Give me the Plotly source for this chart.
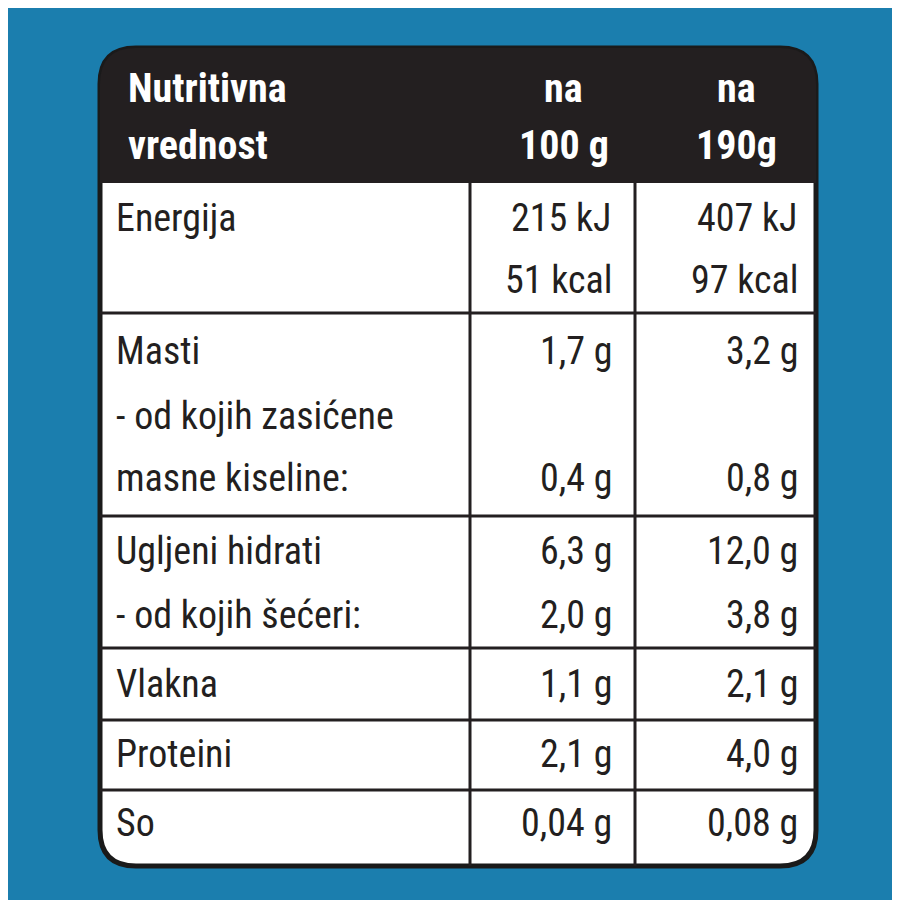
import plotly.graph_objects as go

# data
header_label = ["Nutritivna", "vrednost"]
header_100 = ["na", "100 g"]
header_190 = ["na", "190g"]

labels = [["Energija", ""],
          ["Masti", "- od kojih zasićene", "masne kiseline:"],
          ["Uglјeni hidrati".replace("ј", "j"), "- od kojih šećeri:"],
          ["Vlakna"], ["Proteini"], ["So"]]
per100 = [["215 kJ", "51 kcal"], ["1,7 g", "", "0,4 g"], ["6,3 g", "2,0 g"],
          ["1,1 g"], ["2,1 g"], ["0,04 g"]]
per190 = [["407 kJ", "97 kcal"], ["3,2 g", "", "0,8 g"], ["12,0 g", "3,8 g"],
          ["2,1 g"], ["4,0 g"], ["0,08 g"]]

# layout positions (pixels)
line_y = [[210, 272], [343, 408, 470], [543, 607], [676], [746], [815]]
sep_y = [305, 508, 640, 712, 782]
L, R, T, B, r = 92, 808, 40, 858, 36
HB = 175
x_sep = [462, 627]

FONT = "Liberation Sans Narrow, Roboto Condensed, Arial Narrow, sans-serif"
fig = go.Figure()
fig.add_trace(go.Scatter(x=[0, 900], y=[0, 900], mode="markers", marker_opacity=0,
                         hoverinfo="skip", showlegend=False))

card = (f"M {L+r},{T} L {R-r},{T} Q {R},{T} {R},{T+r} L {R},{B-r} Q {R},{B} {R-r},{B} "
        f"L {L+r},{B} Q {L},{B} {L},{B-r} L {L},{T+r} Q {L},{T} {L+r},{T} Z")
head = (f"M {L+r},{T} L {R-r},{T} Q {R},{T} {R},{T+r} L {R},{HB} L {L},{HB} "
        f"L {L},{T+r} Q {L},{T} {L+r},{T} Z")
shapes = [dict(type="path", path=card, fillcolor="white", line=dict(color="#1a1a1a", width=5)),
          dict(type="path", path=head, fillcolor="#231f20", line=dict(width=0))]
for xs in x_sep:
    shapes.append(dict(type="line", x0=xs, x1=xs, y0=HB, y1=B, line=dict(color="#231f20", width=3)))
for ys in sep_y:
    shapes.append(dict(type="line", x0=L, x1=R, y0=ys, y1=ys, line=dict(color="#231f20", width=3)))

ann = []
def txt(x, y, t, anchor, color="#231f20", size=38, bold=False):
    if not t:
        return
    ann.append(dict(x=x, y=y, text=f"<b>{t}</b>" if bold else t, showarrow=False,
                    xanchor=anchor, yanchor="middle",
                    font=dict(family=FONT, size=size, color=color)))

for i, (a, b, c) in enumerate(zip(header_label, header_100, header_190)):
    y = 80 + i * 57
    txt(118, y, a, "left", "white", 40, True)
    txt(603, y, b, "right" if i else "center", "white", 40, True) if i else txt(555, y, b, "center", "white", 40, True)
    txt(728, y, c, "center", "white", 40, True)

for g in range(len(labels)):
    for j, y in enumerate(line_y[g]):
        txt(106, y, labels[g][j], "left")
        txt(606, y, per100[g][j], "right")
        txt(792, y, per190[g][j], "right")

fig.update_layout(width=900, height=900, margin=dict(l=0, r=0, t=0, b=0),
                  paper_bgcolor="#1b7eae", plot_bgcolor="#1b7eae",
                  shapes=shapes, annotations=ann,
                  xaxis=dict(range=[0, 900], visible=False, fixedrange=True),
                  yaxis=dict(range=[900, 0], visible=False, fixedrange=True))
fig.write_html("out.html")
